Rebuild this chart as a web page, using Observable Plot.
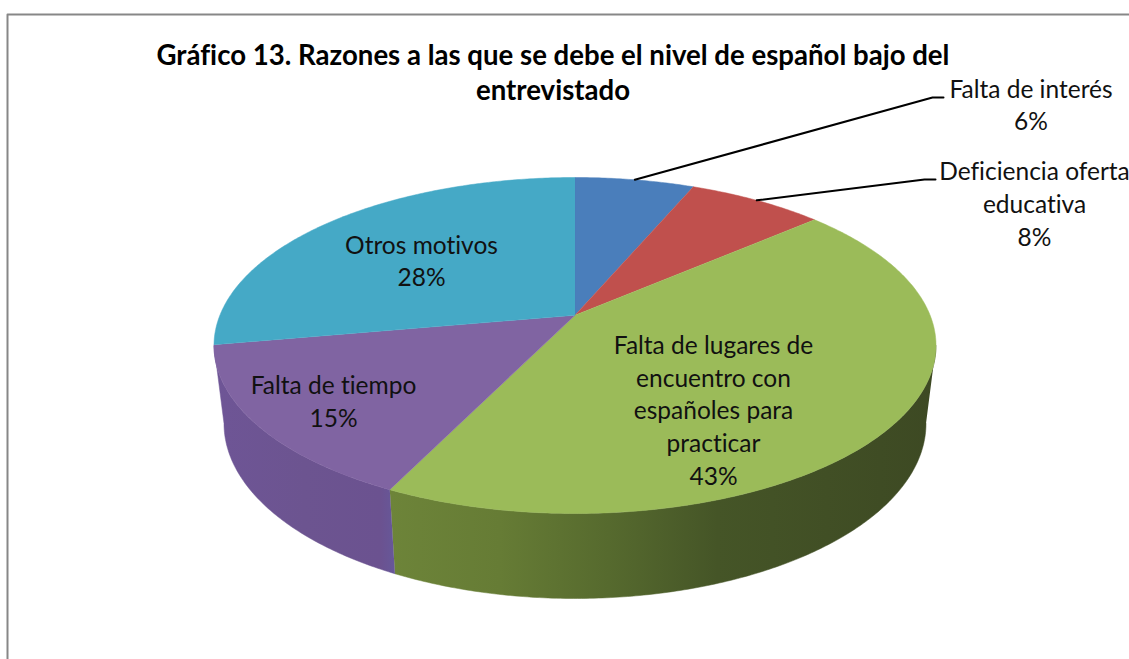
<!DOCTYPE html>
<html lang="es">
<head>
<meta charset="utf-8">
<script src="https://cdn.jsdelivr.net/npm/d3@7"></script>
<script src="https://cdn.jsdelivr.net/npm/@observablehq/plot@0.6"></script>
<style>
html,body{margin:0;padding:0;background:#fff;overflow:hidden}
svg{display:block}
svg text{font-variant-ligatures:none;font-kerning:normal}
</style>
</head>
<body>
<div id="chart"></div>
<script>
// --- data ---
const categories = ["Falta de interés", "Deficiencia oferta educativa", "Falta de lugares de encuentro con españoles para practicar", "Falta de tiempo", "Otros motivos"];
const wrapped = ["Falta de interés", "Deficiencia oferta\neducativa", "Falta de lugares de\nencuentro con\nespañoles para\npracticar", "Falta de tiempo", "Otros motivos"];
const values = [6, 8, 43, 15, 28];                 // printed percentages
const shares = [6.35, 7.25, 43.6, 15.0, 27.8];     // slice sizes as measured on the picture
const colors = ["#4a7ebb", "#c0504d", "#9bbb59", "#8064a2", "#45a9c6"];
const titleText = "Gráfico 13. Razones a las que se debe el nivel de español bajo del\nentrevistado";

// --- layout of the tilted disc (pixel-identity scales below) ---
const W = 1129, H = 659;
const upper = {cx: 574.5, cy: 345, rx: 361, ry: 168};
const lower = {cx: 574.5, cy: 423, rx: 351, ry: 175};
const k = 0.18;              // perspective of the tilted disc
const labelAt = [[1030.5, 103], [1034, 202], [713, 408.5], [333, 399.5], [421, 259]];
const elbows = [[[932, 97], [943, 97]], [[924, 179], [935, 179]]];

// map a pie angle (0 = 12 o'clock, clockwise) and radius onto an ellipse
function project(e, theta, r = 1) {
  const u = r * Math.sin(theta), v = -r * Math.cos(theta);
  const d = 1 - k * v;
  const b = 1 - k * k;
  return {
    x: e.cx + e.rx * Math.sqrt(b) * u / d,
    y: e.cy + e.ry * ((v - k) / d)
  };
}
const total = d3.sum(shares);
const cum = d3.cumsum(shares);
const ang = p => 2 * Math.PI * p / total;
const slices = shares.map((v, i) => ({i, a0: ang(cum[i] - v), a1: ang(cum[i])}));
function arc(e, a0, a1) {
  const n = Math.max(2, Math.ceil(Math.abs(a1 - a0) / 0.01));
  return d3.range(n + 1).map(j => project(e, a0 + (a1 - a0) * j / n));
}
const frontStart = Math.acos(-k), frontEnd = 2 * Math.PI - frontStart;
function sidePoly(s) {
  const a0 = Math.max(s.a0, frontStart), a1 = Math.min(s.a1, frontEnd);
  if (a1 <= a0) return null;
  return [...arc(upper, a0, a1), ...arc(lower, a1, a0)];
}
const topPoly = s => [project(upper, 0, 0), ...arc(upper, s.a0, s.a1)];

// gradients for the lit rim
const defs = () => {
  const d = d3.create("svg:defs");
  const mk = (id, x1, x2, stops) => {
    const g = d.append("linearGradient").attr("id", id).attr("gradientUnits", "userSpaceOnUse")
      .attr("x1", x1).attr("x2", x2).attr("y1", 0).attr("y2", 0);
    stops.forEach(([o, c]) => g.append("stop").attr("offset", o).attr("stop-color", c));
  };
  mk("side2", 390, 935, [[0, "#6d8439"], [0.2, "#667c35"], [0.4, "#566a2e"], [0.6, "#455527"], [1, "#3d4923"]]);
  mk("side3", 213, 395, [[0, "#6e5596"], [0.5, "#6c5490"], [0.92, "#6b5290"], [1, "#66589a"]]);
  return d.node();
};
const sideFill = {2: "url(#side2)", 3: "url(#side3)", 4: "#6e5596"};

const font = "Lato, 'Open Sans', sans-serif";
const labels = values.map((v, i) => ({x: labelAt[i][0], y: labelAt[i][1], text: `${wrapped[i]}\n${v}%`}));

const leaders = [0, 1].map(i => {
  const m = (slices[i].a0 + slices[i].a1) / 2;
  const p = project(upper, m);
  return [p, ...elbows[i].map(([x, y]) => ({x, y}))];
});

const plot = Plot.plot({
  width: W, height: H,
  marginTop: 0, marginBottom: 0, marginLeft: 0, marginRight: 0,
  x: {domain: [0, W], range: [0, W], axis: null},
  y: {domain: [0, H], range: [0, H], axis: null},
  style: {background: "#fff"},
  marks: [
    defs,
    Plot.line([{x: W, y: 14}, {x: 7, y: 14}, {x: 7, y: H}], {x: "x", y: "y", stroke: "#878787", strokeWidth: 2}),
    ...slices.filter(s => sidePoly(s)).map(s =>
      Plot.line(sidePoly(s), {x: "x", y: "y", fill: sideFill[s.i], stroke: sideFill[s.i], strokeWidth: 0.5})),
    ...slices.map(s =>
      Plot.line(topPoly(s), {x: "x", y: "y", fill: colors[s.i], stroke: colors[s.i], strokeWidth: 0.5})),
    ...leaders.map(l => Plot.line(l, {x: "x", y: "y", stroke: "#000", strokeWidth: 2})),
    Plot.text(labels, {x: "x", y: "y", text: "text", fontFamily: font, fontSize: 24.5, lineHeight: 1.335, fill: "#111", textAnchor: "middle"}),
    Plot.text([titleText], {x: () => 552.5, y: () => 70.5, text: d => d, fontFamily: font, fontWeight: 700, fontSize: 27.6, lineHeight: 1.27, fill: "#000", textAnchor: "middle"})
  ]
});
document.getElementById("chart").append(plot);
</script>
</body>
</html>
